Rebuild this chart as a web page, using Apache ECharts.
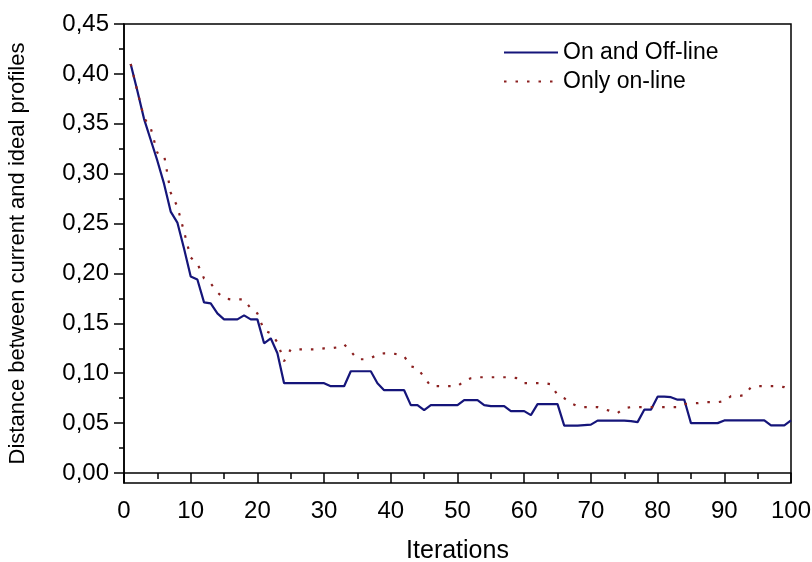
<!DOCTYPE html>
<html>
<head>
<meta charset="utf-8">
<script src="https://cdn.jsdelivr.net/npm/echarts@6/dist/echarts.min.js"></script>
<style>
html,body{margin:0;padding:0;background:#fff;}
#chart{width:812px;height:562px;}
</style>
</head>
<body>
<div id="chart"></div>
<script>
var iterations = [1,2,3,4,5,6,7,8,9,10,11,12,13,14,15,16,17,18,19,20,21,22,23,24,25,26,27,28,29,30,31,32,33,34,35,36,37,38,39,40,41,42,43,44,45,46,47,48,49,50,51,52,53,54,55,56,57,58,59,60,61,62,63,64,65,66,67,68,69,70,71,72,73,74,75,76,77,78,79,80,81,82,83,84,85,86,87,88,89,90,91,92,93,94,95,96,97,98,99,100];

var onAndOffLine = [0.410,0.383,0.355,0.334,0.313,0.290,0.262,0.251,0.225,0.197,
0.194,0.171,0.170,0.160,0.154,0.154,0.154,0.158,0.154,0.154,
0.130,0.135,0.120,0.090,0.090,0.090,0.090,0.090,0.090,0.090,
0.087,0.087,0.087,0.102,0.102,0.102,0.102,0.090,0.083,0.083,
0.083,0.083,0.068,0.068,0.063,0.068,0.068,0.068,0.068,0.068,
0.073,0.073,0.073,0.068,0.067,0.067,0.067,0.062,0.062,0.062,
0.058,0.069,0.069,0.069,0.069,0.0475,0.0475,0.0475,0.048,0.0485,
0.0525,0.0525,0.0525,0.0525,0.0525,0.052,0.051,0.0635,0.0635,0.0765,
0.0765,0.076,0.0735,0.0735,0.050,0.050,0.050,0.050,0.050,0.0527,
0.0527,0.0527,0.0527,0.0527,0.0527,0.0527,0.0477,0.0477,0.0477,0.0527];

var onlyOnLine = [0.410,0.383,0.356,0.346,0.321,0.319,0.281,0.267,0.242,0.216,
0.210,0.195,0.190,0.181,0.175,0.174,0.174,0.174,0.165,0.160,
0.143,0.140,0.131,0.112,0.124,0.124,0.124,0.124,0.124,0.125,
0.125,0.126,0.129,0.122,0.114,0.114,0.115,0.119,0.120,0.120,
0.119,0.117,0.107,0.105,0.096,0.087,0.087,0.087,0.087,0.087,
0.092,0.095,0.096,0.096,0.096,0.096,0.096,0.096,0.095,0.090,
0.090,0.090,0.090,0.089,0.078,0.075,0.070,0.067,0.066,0.066,
0.066,0.064,0.062,0.060,0.065,0.066,0.066,0.066,0.066,0.066,
0.066,0.066,0.066,0.069,0.070,0.070,0.071,0.071,0.071,0.072,
0.077,0.077,0.078,0.086,0.087,0.087,0.087,0.087,0.086,0.083];

var yMajorTicks = [0,0.05,0.10,0.15,0.20,0.25,0.30,0.35,0.40,0.45];
var yMinorTicks = [0.025,0.075,0.125,0.175,0.225,0.275,0.325,0.375,0.425];
var seriesNames = ['On and Off-line','Only on-line'];

function pairs(xs, ys){ return xs.map(function(x,i){ return [x, ys[i]]; }); }

var FONT = 'Liberation Sans, Arial, sans-serif';
var chart = echarts.init(document.getElementById('chart'), null, {renderer:'canvas'});
chart.setOption({
  animation:false,
  backgroundColor:'#fff',
  grid:{left:124,right:21,top:24,bottom:79,outerBoundsMode:'none',containLabel:false,
    show:true,borderColor:'#000',borderWidth:1.5,backgroundColor:'transparent'},
  legend:{
    left:503, top:41, orient:'vertical', padding:0, itemWidth:54, itemHeight:14, itemGap:6,
    itemStyle:{opacity:0},
    textStyle:{fontFamily:FONT,fontSize:23,color:'#000'},
    data:seriesNames
  },
  xAxis:{
    type:'value', min:0, max:100, interval:10,
    name:'Iterations', nameLocation:'middle', nameGap:56,
    nameTextStyle:{fontFamily:FONT,fontSize:25,color:'#000'},
    axisLine:{show:true,lineStyle:{color:'#000',width:1.5}},
    axisTick:{show:true,inside:false,length:10,lineStyle:{color:'#000',width:1.5}},
    minorTick:{show:true,splitNumber:2,length:6,lineStyle:{color:'#000',width:1.5}},
    axisLabel:{fontFamily:FONT,fontSize:24,color:'#000',margin:16},
    splitLine:{show:false}
  },
  yAxis:[{
    type:'value', min:-0.01, max:0.45,
    name:'Distance between current and ideal profiles', nameLocation:'middle', nameGap:95,
    nameTextStyle:{fontFamily:FONT,fontSize:22,color:'#000'},
    axisLine:{show:true,lineStyle:{color:'#000',width:1.5}},
    axisTick:{show:true,inside:false,length:10,customValues:yMajorTicks,lineStyle:{color:'#000',width:1.5}},
    axisLabel:{fontFamily:FONT,fontSize:24,color:'#000',margin:15,customValues:yMajorTicks,
      formatter:function(v){return v.toFixed(2).replace('.',',');}},
    splitLine:{show:false}
  },{
    type:'value', min:-0.01, max:0.45, position:'left',
    axisLine:{show:false},
    axisTick:{show:true,inside:false,length:5,customValues:yMinorTicks,lineStyle:{color:'#000',width:1.5}},
    axisLabel:{show:false},
    splitLine:{show:false}
  }],
  series:[{
    name:seriesNames[0], type:'line', data:pairs(iterations,onAndOffLine),
    symbol:'none', lineStyle:{color:'#15157a',width:2.2}, itemStyle:{color:'#15157a'}
  },{
    name:seriesNames[1], type:'line', data:pairs(iterations,onlyOnLine),
    symbol:'none', lineStyle:{color:'#8b2020',width:2.2,type:[2.5,9]}, itemStyle:{color:'#8b2020'}
  }]
});
</script>
</body>
</html>
